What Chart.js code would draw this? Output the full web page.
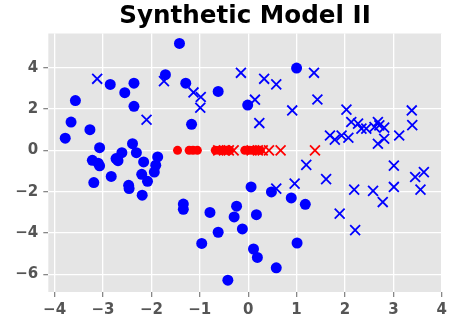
<!DOCTYPE html>
<html>
<head>
<meta charset="utf-8">
<script src="https://cdn.jsdelivr.net/npm/chart.js@4/dist/chart.umd.min.js"></script>
<style>
  html, body { margin: 0; padding: 0; background: #fff; }
  #wrap { width: 451px; height: 320px; }
</style>
</head>
<body>
<div id="wrap"><canvas id="scatter"></canvas></div>
<script>
// class 0 (blue dots)
var blueDotX = [-1.42, -1.71, -2.85, -2.36, -2.55, -3.57, -2.36, -3.66, -3.27, -3.78, -3.07, -2.39, -2.61, -2.31, -2.73, -3.22, -3.10, -1.87, -2.16, -3.07, -2.69, -1.91, -1.94, -2.2, -2.83, -2.08, -3.19, -2.47, -2.46, -2.19, -1.34, -1.34, -1.29, -0.62, -0.01, -1.17, 1.0, 0.06, 0.48, 0.89, 1.18, -0.79, -0.24, -0.29, 0.17, -0.62, -0.12, -0.96, 0.11, 0.19, 0.58, -0.42, 1.01];
var blueDotY = [5.17, 3.66, 3.19, 3.25, 2.79, 2.41, 2.13, 1.37, 1.0, 0.59, 0.13, 0.32, -0.11, -0.11, -0.4, -0.48, -0.62, -0.32, -0.56, -0.75, -0.5, -0.72, -1.05, -1.16, -1.26, -1.5, -1.56, -1.69, -1.85, -2.17, -2.6, -2.85, 3.25, 2.85, 2.19, 1.26, 3.98, -1.77, -2.01, -2.3, -2.61, -3.0, -2.7, -3.22, -3.11, -3.96, -3.8, -4.5, -4.77, -5.18, -5.68, -6.28, -4.48];

// class 1 (blue crosses)
var blueCrossX = [-3.12, -2.10, -1.74, -0.15, 0.33, 0.58, -1.13, -0.98, -0.99, 0.14, 0.23, 0.91, 0.58, 0.96, 1.2, 1.61, 1.89, 2.21, 2.19, 2.58, 2.78, 3.01, 3.01, 3.45, 3.63, 3.56, 1.36, 1.43, 2.03, 3.38, 3.39, 1.69, 1.79, 1.93, 2.07, 2.13, 2.27, 2.34, 2.44, 2.61, 2.68, 2.71, 2.81, 2.81, 2.68, 3.12];
var blueCrossY = [3.46, 1.48, 3.35, 3.75, 3.46, 3.19, 2.8, 2.58, 2.06, 2.45, 1.32, 1.93, -1.85, -1.61, -0.7, -1.39, -3.06, -3.86, -1.9, -1.96, -2.5, -0.74, -1.77, -1.29, -1.05, -1.9, 3.75, 2.46, 1.97, 1.93, 1.22, 0.72, 0.52, 0.72, 0.61, 1.37, 1.29, 1.05, 1.05, 1.13, 1.37, 1.21, 1.1, 0.56, 0.32, 0.72];

// model points (red)
var redDotX = [-1.46, -1.22, -1.14, -1.05, -0.68, -0.6, -0.52, -0.45, -0.38, -0.07, 0.03, 0.1, 0.17, 0.25];
var redDotY = [0, 0, 0, 0, 0, 0, 0, 0, 0, 0, 0, 0, 0, 0];
var redCrossX = [-0.62, -0.5, -0.4, -0.3, 0.07, 0.2, 0.3, 0.43, 0.67, 1.38];
var redCrossY = [0, 0, 0, 0, 0, 0, 0, 0, 0, 0];

var xTicks = [-4, -3, -2, -1, 0, 1, 2, 3, 4];
var yTicks = [-6, -4, -2, 0, 2, 4];

function pts(xs, ys) {
    return xs.map(function (x, i) { return {x: x, y: ys[i]}; });
}
function minus(v) {
    return String(v).replace('-', '\u2212');
}

var plotBg = {
    id: 'plotBg',
    beforeDraw: function (chart) {
        var a = chart.chartArea, ctx = chart.ctx;
        ctx.save();
        ctx.fillStyle = '#e5e5e5';
        ctx.fillRect(a.left, a.top, a.right - a.left, a.bottom - a.top);
        ctx.restore();
    }
};

var tickFont = {family: 'DejaVu Sans', size: 15, weight: 'bold'};

var myChart = new Chart(document.getElementById('scatter'), {
    type: 'scatter',
    data: {
        datasets: [{
            data: pts(blueDotX, blueDotY),
            backgroundColor: '#0000ff',
            borderColor: '#0000ff',
            pointStyle: 'circle',
            pointRadius: 5.5,
            borderWidth: 0
        }, {
            data: pts(blueCrossX, blueCrossY),
            backgroundColor: '#0000ff',
            borderColor: '#0000ff',
            pointStyle: 'crossRot',
            pointRadius: 7,
            borderWidth: 1.8
        }, {
            data: pts(redDotX, redDotY),
            backgroundColor: '#ff0000',
            borderColor: '#ff0000',
            pointStyle: 'circle',
            pointRadius: 4.5,
            borderWidth: 0
        }, {
            data: pts(redCrossX, redCrossY),
            backgroundColor: '#ff0000',
            borderColor: '#ff0000',
            pointStyle: 'crossRot',
            pointRadius: 7,
            borderWidth: 1.8
        }]
    },
    options: {
        responsive: true,
        maintainAspectRatio: false,
        animation: false,
        layout: {padding: {left: 0, right: 6, top: 0, bottom: 0}},
        plugins: {
            legend: {display: false},
            tooltip: {enabled: false},
            title: {
                display: true,
                fullSize: false,
                text: 'Synthetic Model II',
                color: '#000',
                font: {family: 'DejaVu Sans', size: 24.6, weight: 'bold'},
                padding: {top: 2, bottom: 2}
            }
        },
        scales: {
            x: {
                type: 'linear',
                min: -4.13,
                max: 4.0,
                afterBuildTicks: function (s) { s.ticks = xTicks.map(function (v) { return {value: v}; }); },
                afterFit: function (s) { s.height = 28; },
                grid: {color: '#ffffff', lineWidth: 1.3, tickColor: '#888', tickLength: 5},
                border: {display: false},
                ticks: {color: '#555', font: tickFont, padding: 4, maxRotation: 0,
                        callback: function (v) { return minus(v); }}
            },
            y: {
                type: 'linear',
                min: -6.85,
                max: 5.65,
                afterBuildTicks: function (s) { s.ticks = yTicks.map(function (v) { return {value: v}; }); },
                afterFit: function (s) { s.width = 48.3; },
                grid: {color: '#ffffff', lineWidth: 1.3, tickColor: '#888', tickLength: 5},
                border: {display: false},
                ticks: {color: '#555', font: tickFont, padding: 5,
                        callback: function (v) { return minus(v); }}
            }
        }
    },
    plugins: [plotBg]
});
</script>
</body>
</html>
